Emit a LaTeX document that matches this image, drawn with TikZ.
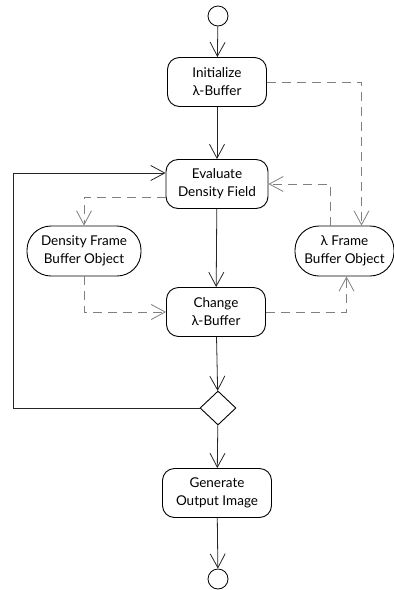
\documentclass[tikz,border=0pt]{standalone}
\usepackage{fontspec}
\setmainfont{Lato}
\usetikzlibrary{arrows.meta,shapes.geometric}

\begin{document}
\begin{tikzpicture}[x=1pt,y=-1pt,
    flow/.style={draw=black!85,line width=0.8pt,-{Straight Barb[length=14pt,width=15pt]}},
    objflow/.style={flow,draw=black!50,dash pattern=on 9pt off 6pt},
    action/.style={draw,line width=0.9pt,rounded corners=12pt,align=center,
      minimum height=49pt,inner xsep=2pt,font=\fontsize{13.5}{18}\selectfont},
    object/.style={action,rounded corners=24pt,minimum height=50pt},
    terminal/.style={draw,line width=0.8pt,circle,minimum size=20pt,inner sep=0pt},
    decision/.style={draw,line width=0.9pt,diamond,minimum width=36pt,
      minimum height=34pt,inner sep=0pt}]
  \useasboundingbox (0,0) rectangle (394,590);

  % nodes
  \node[terminal] (start) at (218,16) {};
  \node[action,minimum width=99pt] (init) at (217,82) {Initialize\\λ-Buffer};
  \node[action,minimum width=102pt] (eval) at (217,184) {Evaluate\\Density Field};
  \node[object,minimum width=114pt] (dfbo) at (84,251) {Density Frame\\Buffer Object};
  \node[object,minimum width=99pt] (lfbo) at (344.5,251) {λ Frame\\Buffer Object};
  \node[action,minimum width=99pt] (change) at (216,312) {Change\\λ-Buffer};
  \node[decision] (dec) at (218,408) {};
  \node[action,minimum width=109pt] (gen) at (217,493) {Generate\\Output Image};
  \node[terminal] (stop) at (218,579) {};
  \coordinate (loop) at (13,408);

  % control flow
  \draw[flow] (start) -- (init);
  \draw[flow] (init) -- (eval);
  \draw[flow] (eval) -- (change);
  \draw[flow] (change) -- (dec);
  \draw[flow] (dec.west) -- (loop) |- ([yshift=11pt]eval.west);
  \draw[flow] (dec) -- (gen);
  \draw[flow] (gen) -- (stop);

  % object flow
  \draw[objflow] (init.east) -| ([xshift=17pt]lfbo.north);
  \draw[objflow] ([yshift=-13pt]eval.west) -| (dfbo.north);
  \draw[objflow] ([xshift=-14pt]lfbo.north) |- (eval.east);
  \draw[objflow] (dfbo.south) |- (change.west);
  \draw[objflow] (change.east) -| ([xshift=2pt]lfbo.south);
\end{tikzpicture}
\end{document}
